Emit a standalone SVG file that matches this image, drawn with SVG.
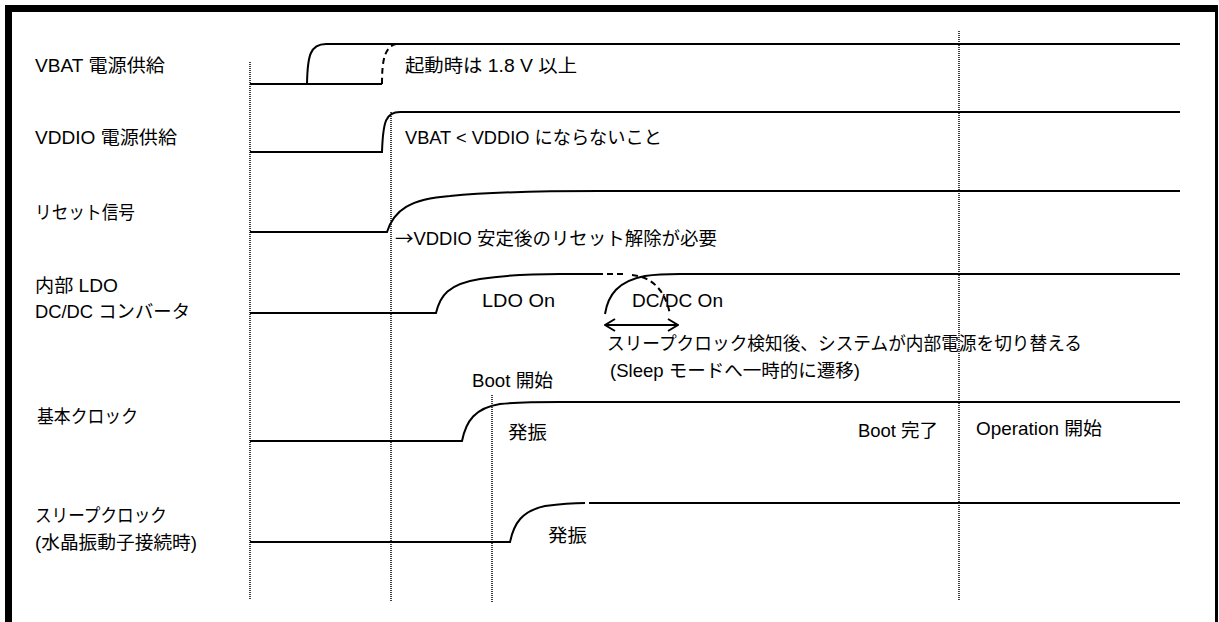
<svg xmlns="http://www.w3.org/2000/svg" width="1219" height="622" viewBox="0 0 1219 622">
<style>
  text { font-family: "Liberation Sans", "Noto Sans CJK JP", sans-serif; font-size: 18.5px; fill: #000; }
  .cjk { font-family: "Noto Sans CJK JP", sans-serif; }
  .sig { fill: none; stroke: #000; stroke-width: 2; }
  .dash { fill: none; stroke: #000; stroke-width: 2; stroke-dasharray: 6 4; }
  .guide { fill: none; stroke: #000; stroke-width: 1.5; stroke-dasharray: 1 1; }
  .frame { fill: #000; }
</style>
<defs>
  <marker id="oa" viewBox="0 0 12 14" refX="11" refY="7" markerWidth="12" markerHeight="14" markerUnits="userSpaceOnUse" orient="auto-start-reverse">
    <path d="M1,1 L11,7 L1,13" fill="none" stroke="#000" stroke-width="2"/>
  </marker>
</defs>
<rect width="1219" height="622" fill="#fff"/>
<g id="frame">
  <rect class="frame" x="5" y="5" width="1213" height="7"/>
  <rect class="frame" x="5" y="5" width="7" height="617"/>
  <rect class="frame" x="1215" y="5" width="3" height="617"/>
</g>
<g id="connectors">
  <line class="guide" x1="250" y1="62" x2="250" y2="600"/>
  <line class="guide" x1="391" y1="112" x2="391" y2="602"/>
  <line class="guide" x1="492" y1="395" x2="492" y2="603"/>
  <line class="guide" x1="959" y1="31" x2="959" y2="600"/>
  <path d="M605,325 H678" fill="none" stroke="#000" stroke-width="2" marker-start="url(#oa)" marker-end="url(#oa)"/>
</g>
<g id="vbat">
  <text x="35" y="72" textLength="130" lengthAdjust="spacingAndGlyphs">VBAT 電源供給</text>
  <path class="sig" d="M250,84 H382"/>
  <path class="sig" d="M307,84 C307.5,56 310,44 326,44 H1180"/>
  <path class="dash" d="M382,84 C382,62 384,47 396,44"/>
  <text x="405" y="72" textLength="172" lengthAdjust="spacingAndGlyphs">起動時は 1.8 V 以上</text>
</g>
<g id="vddio">
  <text x="35" y="144" textLength="142" lengthAdjust="spacingAndGlyphs">VDDIO 電源供給</text>
  <path class="sig" d="M250,152 H382 C383,121 386,112 400,112 H1180"/>
  <text x="405" y="144" textLength="257" lengthAdjust="spacingAndGlyphs">VBAT &lt; VDDIO にならないこと</text>
</g>
<g id="reset">
  <text x="35" y="219" textLength="100" lengthAdjust="spacingAndGlyphs">リセット信号</text>
  <path class="sig" d="M250,232 H387 C394,210 410,199 450,196 C490,192 530,191 600,191 H1180"/>
  <text x="395" y="245" textLength="322" lengthAdjust="spacingAndGlyphs"><tspan class="cjk">→</tspan>VDDIO 安定後のリセット解除が必要</text>
</g>
<g id="ldo">
  <text x="35" y="292" textLength="83" lengthAdjust="spacingAndGlyphs">内部 LDO</text>
  <text x="35" y="318" textLength="155" lengthAdjust="spacingAndGlyphs">DC/DC コンバータ</text>
  <path class="sig" d="M250,313 H436 C440,296 448,284 480,279 C505,275 530,274 560,274 H597"/>
  <path class="dash" d="M597,274 H625"/>
  <path class="sig" d="M605,314 C608,295 618,281 645,276 C655,274.5 665,274 680,274 H1180"/>
  <path class="dash" d="M632,275 C652,277 665,290 670,314"/>
  <text x="482" y="307" textLength="73" lengthAdjust="spacingAndGlyphs">LDO On</text>
  <text x="632" y="307" textLength="91" lengthAdjust="spacingAndGlyphs">DC/DC On</text>
  <text x="607" y="350" textLength="475" lengthAdjust="spacingAndGlyphs">スリープクロック検知後、システムが内部電源を切り替える</text>
  <text x="610" y="377" textLength="250" lengthAdjust="spacingAndGlyphs">(Sleep モードへ一時的に遷移)</text>
</g>
<g id="mainclock">
  <text x="37" y="423" textLength="101" lengthAdjust="spacingAndGlyphs">基本クロック</text>
  <path class="sig" d="M250,441 H462 C466,421 475,408 500,404 C520,402 535,402 560,402 H1180"/>
  <text x="472" y="387" textLength="81" lengthAdjust="spacingAndGlyphs">Boot 開始</text>
  <text x="508" y="439" textLength="39" lengthAdjust="spacingAndGlyphs">発振</text>
  <text x="858" y="437" textLength="80" lengthAdjust="spacingAndGlyphs">Boot 完了</text>
  <text x="976" y="435" textLength="126" lengthAdjust="spacingAndGlyphs">Operation 開始</text>
</g>
<g id="sleepclock">
  <text x="35" y="522" textLength="132" lengthAdjust="spacingAndGlyphs">スリープクロック</text>
  <text x="35" y="549" textLength="162" lengthAdjust="spacingAndGlyphs">(水晶振動子接続時)</text>
  <path class="sig" d="M250,542 H510 C514,523 522,511 545,506 C560,504 572,503 585,503"/>
  <path class="sig" d="M589,503 H1180"/>
  <text x="548" y="542" textLength="39" lengthAdjust="spacingAndGlyphs">発振</text>
</g>
</svg>
